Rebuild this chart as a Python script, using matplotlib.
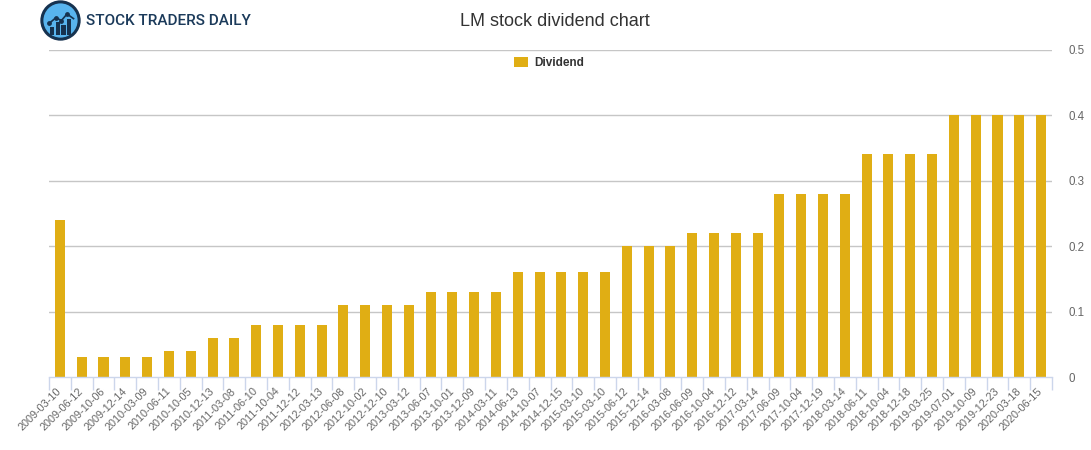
import matplotlib
matplotlib.use('Agg')
import matplotlib.pyplot as plt
from matplotlib.patches import Circle, Rectangle
from matplotlib import font_manager
import numpy as np

dates = ["2009-03-10", "2009-06-12", "2009-10-06", "2009-12-14", "2010-03-09", "2010-06-11",
         "2010-10-05", "2010-12-13", "2011-03-08", "2011-06-10", "2011-10-04", "2011-12-12",
         "2012-03-13", "2012-06-08", "2012-10-02", "2012-12-10", "2013-03-12", "2013-06-07",
         "2013-10-01", "2013-12-09", "2014-03-11", "2014-06-13", "2014-10-07", "2014-12-15",
         "2015-03-10", "2015-03-10", "2015-06-12", "2015-12-14", "2016-03-08", "2016-06-09",
         "2016-10-04", "2016-12-12", "2017-03-14", "2017-06-09", "2017-10-04", "2017-12-19",
         "2018-03-14", "2018-06-11", "2018-10-04", "2018-12-18", "2019-03-25", "2019-07-01",
         "2019-10-09", "2019-12-23", "2020-03-18", "2020-06-15"]
dividends = [0.24, 0.03, 0.03, 0.03, 0.03, 0.04, 0.04, 0.06, 0.06, 0.08, 0.08, 0.08,
             0.08, 0.11, 0.11, 0.11, 0.11, 0.13, 0.13, 0.13, 0.13, 0.16, 0.16, 0.16,
             0.16, 0.16, 0.20, 0.20, 0.20, 0.22, 0.22, 0.22, 0.22, 0.28, 0.28, 0.28,
             0.28, 0.34, 0.34, 0.34, 0.34, 0.40, 0.40, 0.40, 0.40, 0.40]
y_ticks = [0, 0.1, 0.2, 0.3, 0.4, 0.5]
y_labels = ["0", "0.1", "0.2", "0.3", "0.4", "0.5"]

W, H = 1091, 450
plt.rcParams['font.family'] = ['Liberation Sans', 'DejaVu Sans']
fig = plt.figure(figsize=(W / 100, H / 100), dpi=100)
fig.patch.set_facecolor('white')

ax = fig.add_axes([49 / W, (H - 377) / H, (1052 - 49) / W, (377 - 49.5) / H])
x = np.arange(len(dates))
ax.bar(x, dividends, width=0.46, color='#E0AE14', zorder=3, label='Dividend')
ax.set_xlim(-0.5, len(dates) - 0.5)
ax.set_ylim(0, 0.5)

for v in y_ticks[1:]:
    ax.axhline(v, color='#c6c6c6', lw=1, zorder=1)

for s in ['top', 'left', 'right']:
    ax.spines[s].set_visible(False)
ax.spines['bottom'].set_color('#ccd6eb')
ax.spines['bottom'].set_linewidth(1)
ax.spines['bottom'].set_zorder(4)

ax.yaxis.tick_right()
ax.set_yticks(y_ticks)
ax.set_yticklabels(y_labels)
ax.tick_params(axis='y', length=0, pad=12, labelsize=8.3, labelcolor='#666666')

ax.set_xticks(x)
ax.set_xticklabels(dates, rotation=45, ha='right', va='center', rotation_mode='anchor')
ax.tick_params(axis='x', which='major', length=0, pad=9, labelsize=7.8, labelcolor='#666666')
ax.set_xticks(np.arange(-0.5, len(dates), 1), minor=True)
ax.tick_params(axis='x', which='minor', length=9, width=1, color='#ccd6eb')

fig.text(555 / W, 1 - 22 / H, "LM stock dividend chart", ha='center', va='center',
         fontsize=13, color='#333333')

ax.legend(loc='center', bbox_to_anchor=(549 / W, 1 - 63 / H), bbox_transform=fig.transFigure,
          frameon=False, handlelength=1.2, handleheight=1.0, handletextpad=0.5,
          prop={'weight': 'bold', 'size': 8.5}, labelcolor='#333333')

# logo
lax = fig.add_axes([40 / W, 1 - 41 / H, 41 / W, 41 / H])
lax.set_xlim(-1.1, 1.1)
lax.set_ylim(-1.1, 1.1)
lax.set_aspect('equal')
lax.axis('off')
lax.add_patch(Circle((0, 0), 1.0, facecolor='#58b4ee', edgecolor='#16324f', lw=2.2))
for bx, bh in zip([-0.55, -0.25, 0.05, 0.35], [0.45, 0.7, 0.55, 0.9]):
    lax.add_patch(Rectangle((bx, -0.8), 0.22, bh, facecolor='#16324f', edgecolor='none'))
lax.plot([-0.6, -0.25, 0.05, 0.35, 0.7], [-0.15, 0.15, 0.0, 0.35, 0.1], color='#16324f', lw=1.2)
lax.scatter([-0.6, -0.25, 0.05, 0.35], [-0.15, 0.15, 0.0, 0.35], s=6, color='#16324f', zorder=5)

logo_font = font_manager.FontProperties(family=['Roboto', 'DejaVu Sans'], weight='medium', size=11)
fig.text(86 / W, 1 - 21 / H, "STOCK TRADERS DAILY", ha='left', va='center',
         fontproperties=logo_font, color='#1b3a5a')

fig.savefig('out.png', dpi=100)
